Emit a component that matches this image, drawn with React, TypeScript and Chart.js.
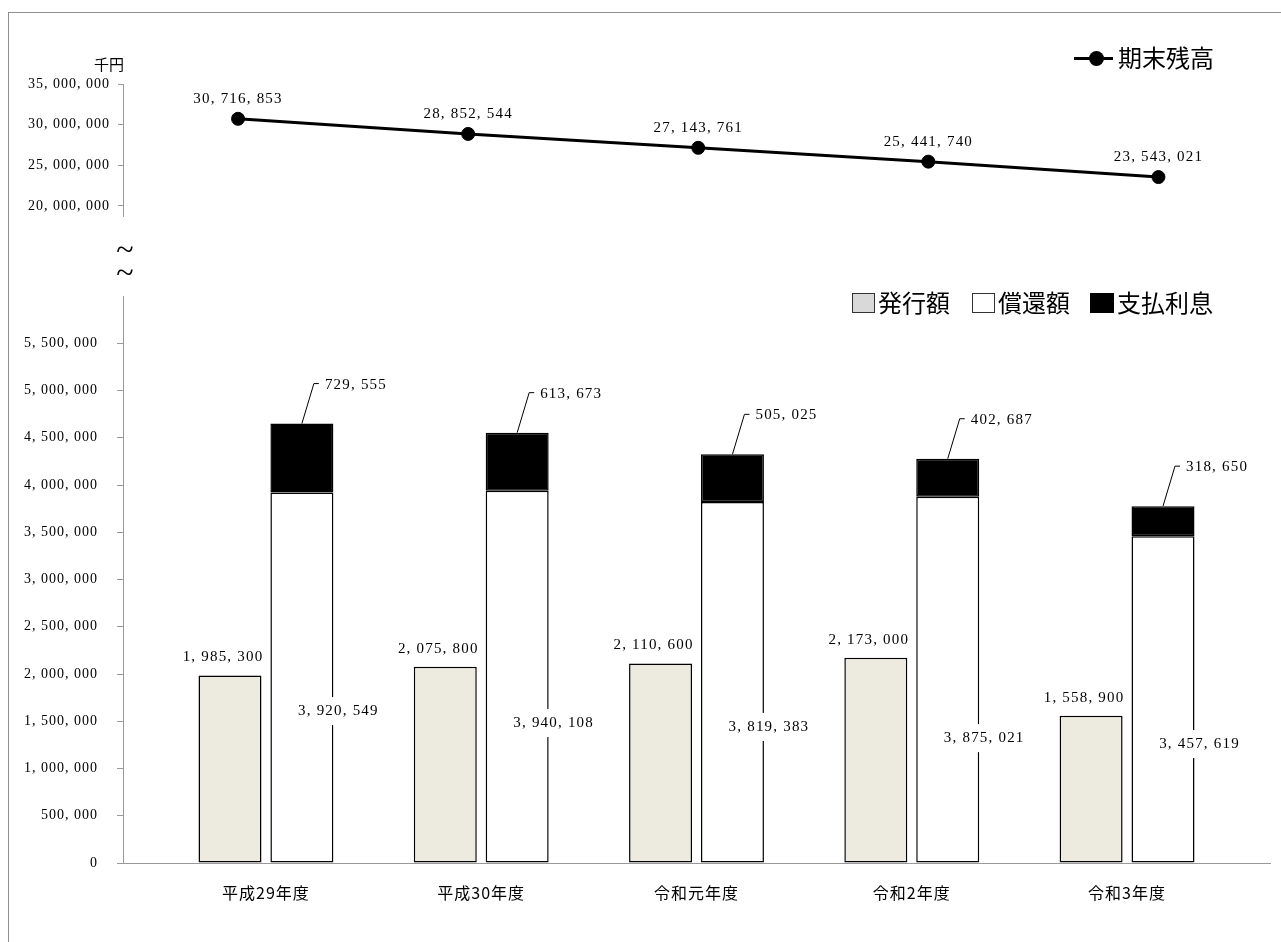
import React, { useEffect, useRef } from "react";
import { Chart, registerables } from "chart.js";

Chart.register(...registerables);

// 年度
const years = ["平成29年度", "平成30年度", "令和元年度", "令和2年度", "令和3年度"];
// 期末残高（千円）
const balance = [30716853, 28852544, 27143761, 25441740, 23543021];
// 発行額・償還額・支払利息（千円）
const issued = [1985300, 2075800, 2110600, 2173000, 1558900];
const repaid = [3920549, 3940108, 3819383, 3875021, 3457619];
const interest = [729555, 613673, 505025, 402687, 318650];
// axis ticks
const balanceTicks = [20000000, 25000000, 30000000, 35000000];
const amountTicks = [0, 500000, 1000000, 1500000, 2000000, 2500000, 3000000, 3500000, 4000000, 4500000, 5000000, 5500000];
// how far up each 償還額 bar its label sits (share of the bar height)
const repaidLabelRise = [0.41, 0.376, 0.377, 0.341, 0.364];

const NUM_FONT = "'Liberation Serif', 'Times New Roman', serif";
const JP_FONT = "'Noto Sans CJK JP', 'Noto Sans', sans-serif";

const fmt = (v: number) => Math.round(v).toLocaleString("en-US").replace(/,/g, ", ");

// Widen glyph spacing of the canvas text a little (tick labels).
const tracking = {
  id: "tracking",
  beforeDraw(chart: any) {
    chart.ctx.letterSpacing = "1px";
  },
};

const balanceLabels = {
  id: "balanceLabels",
  afterDatasetsDraw(chart: any) {
    const ctx = chart.ctx;
    const meta = chart.getDatasetMeta(0);
    ctx.save();
    ctx.letterSpacing = "1.2px";
    ctx.font = `15px ${NUM_FONT}`;
    ctx.fillStyle = "#000";
    ctx.textAlign = "center";
    ctx.textBaseline = "middle";
    meta.data.forEach((pt: any, i: number) => {
      ctx.fillText(fmt(balance[i]), pt.x, pt.y - 20);
    });
    ctx.restore();
  },
};

const barLabels = {
  id: "barLabels",
  afterDatasetsDraw(chart: any) {
    const ctx = chart.ctx;
    const yScale = chart.scales.y;
    const mIssue = chart.getDatasetMeta(0);
    const mRepay = chart.getDatasetMeta(1);
    const mInt = chart.getDatasetMeta(2);
    ctx.save();
    ctx.letterSpacing = "1.2px";
    ctx.font = `15px ${NUM_FONT}`;
    ctx.textBaseline = "middle";

    // 発行額: above the bar
    ctx.textAlign = "center";
    ctx.fillStyle = "#000";
    mIssue.data.forEach((b: any, i: number) => {
      ctx.fillText(fmt(issued[i]), b.x - 7, b.y - 18);
    });

    // 償還額: on the right edge of the bar, on a white ground
    mRepay.data.forEach((b: any, i: number) => {
      const text = fmt(repaid[i]);
      const w = ctx.measureText(text).width;
      const cx = b.x + b.width / 2 + 5;
      const cy = yScale.getPixelForValue(repaid[i] * repaidLabelRise[i]);
      ctx.fillStyle = "#fff";
      ctx.fillRect(cx - w / 2 - 2, cy - 14, w + 4, 28);
      ctx.fillStyle = "#000";
      ctx.fillText(text, cx, cy);
    });

    // 支払利息: callout with a leader line
    ctx.textAlign = "left";
    ctx.strokeStyle = "#000";
    ctx.lineWidth = 1;
    mInt.data.forEach((b: any, i: number) => {
      const top = b.y;
      ctx.beginPath();
      ctx.moveTo(b.x, top);
      ctx.lineTo(b.x + 12, top - 40);
      ctx.lineTo(b.x + 17, top - 40);
      ctx.stroke();
      ctx.fillStyle = "#000";
      ctx.fillText(fmt(interest[i]), b.x + 23, top - 39);
    });
    ctx.restore();
  },
};

export default function App() {
  const topRef = useRef<HTMLCanvasElement | null>(null);
  const bottomRef = useRef<HTMLCanvasElement | null>(null);

  useEffect(() => {
    const lineChart = new Chart(topRef.current as HTMLCanvasElement, {
      type: "line",
      data: {
        labels: years,
        datasets: [
          {
            label: "期末残高",
            data: balance,
            borderColor: "#000",
            borderWidth: 3,
            pointRadius: 6.5,
            pointBorderWidth: 1,
            pointBackgroundColor: "#000",
            pointBorderColor: "#000",
            tension: 0,
            clip: false as any,
          },
        ],
      },
      options: {
        responsive: false,
        animation: false,
        events: [],
        layout: { padding: { top: 84, bottom: 24, left: 0, right: 0 } },
        plugins: { legend: { display: false }, tooltip: { enabled: false } },
        scales: {
          x: { display: false, offset: true },
          y: {
            min: 18750000,
            max: 35000000,
            afterBuildTicks: (s: any) => {
              s.ticks = balanceTicks.map((v) => ({ value: v }));
            },
            afterFit: (s: any) => {
              s.width = 123;
            },
            grid: { drawOnChartArea: false, drawTicks: true, tickLength: 5, color: "#999", lineWidth: 1 },
            border: { display: true, color: "#999", width: 1 },
            ticks: {
              padding: 8,
              color: "#000",
              font: { family: NUM_FONT, size: 14 },
              callback: (v: any) => fmt(Number(v)),
            },
          },
        },
      },
      plugins: [tracking, balanceLabels],
    });

    const barChart = new Chart(bottomRef.current as HTMLCanvasElement, {
      type: "bar",
      data: {
        datasets: [
          {
            label: "発行額",
            data: issued.map((v, i) => ({ x: i, y: v })),
            backgroundColor: "#edeae0",
            borderColor: "#000",
            borderWidth: 1.5,
            borderSkipped: false,
            stack: "issue",
          },
          {
            label: "償還額",
            data: repaid.map((v, i) => ({ x: i, y: v })),
            backgroundColor: "#fff",
            borderColor: "#000",
            borderWidth: 1.5,
            borderSkipped: false,
            stack: "repay",
          },
          {
            label: "支払利息",
            data: interest.map((v, i) => ({ x: i, y: v })),
            backgroundColor: "#000",
            borderColor: "#000",
            borderWidth: 1.5,
            borderSkipped: false,
            stack: "repay",
          },
        ] as any,
      },
      options: {
        responsive: false,
        animation: false,
        events: [],
        datasets: { bar: { categoryPercentage: 0.668, barPercentage: 0.876 } },
        layout: { padding: { top: 28, right: 11, bottom: 29, left: 0 } },
        plugins: { legend: { display: false }, tooltip: { enabled: false } },
        scales: {
          x: {
            type: "linear",
            stacked: true,
            offset: false,
            min: -0.664,
            max: 4.664,
            afterBuildTicks: (s: any) => {
              s.ticks = years.map((_, i) => ({ value: i }));
            },
            afterFit: (s: any) => {
              s.height = 50;
            },
            grid: { display: false, drawTicks: false, offset: false },
            border: { display: true, color: "#999", width: 1 },
            ticks: {
              padding: 20,
              color: "#000",
              autoSkip: false,
              maxRotation: 0,
              font: { family: JP_FONT, size: 16 },
              callback: (v: any) => years[Math.round(Number(v))] ?? "",
            },
          },
          y: {
            stacked: true,
            min: 0,
            max: 6000000,
            afterBuildTicks: (s: any) => {
              s.ticks = amountTicks.map((v) => ({ value: v }));
            },
            afterFit: (s: any) => {
              s.width = 123;
            },
            grid: { drawOnChartArea: false, drawTicks: true, tickLength: 6, color: "#999", lineWidth: 1 },
            border: { display: true, color: "#999", width: 1 },
            ticks: {
              padding: 19,
              color: "#000",
              font: { family: NUM_FONT, size: 14 },
              callback: (v: any) => fmt(Number(v)),
            },
          },
        },
      },
      plugins: [tracking, barLabels],
    });

    return () => {
      lineChart.destroy();
      barChart.destroy();
    };
  }, []);

  const abs = (s: React.CSSProperties): React.CSSProperties => ({ position: "absolute", margin: 0, ...s });
  const jp = (size: number): React.CSSProperties => ({
    fontFamily: JP_FONT,
    fontSize: size,
    lineHeight: `${size}px`,
    color: "#000",
    whiteSpace: "nowrap",
  });
  const breakMark: React.CSSProperties = {
    width: 30,
    textAlign: "center",
    fontFamily: NUM_FONT,
    fontSize: 32,
    lineHeight: "32px",
    color: "#000",
  };

  return (
    <div style={{ position: "fixed", left: 0, top: 0, width: 1281, height: 942, overflow: "hidden", background: "#fff" }}>
      <div style={abs({ left: 8, top: 12, width: 1320, height: 1000, border: "1px solid #8f8f8f", boxSizing: "border-box" })} />

      <canvas ref={topRef} width={1281} height={240} style={abs({ left: 0, top: 0, width: 1281, height: 240, display: "block" })} />
      <canvas ref={bottomRef} width={1281} height={674} style={abs({ left: 0, top: 268, width: 1281, height: 674, display: "block" })} />

      {/* unit */}
      <div style={abs({ left: 94, top: 56, ...jp(15) })}>千円</div>

      {/* axis break marks */}
      <div style={abs({ left: 110, top: 233, ...breakMark })}>~</div>
      <div style={abs({ left: 110, top: 256, ...breakMark })}>~</div>

      {/* line legend */}
      <div style={abs({ left: 1074, top: 57, width: 39, height: 3, background: "#000" })} />
      <div style={abs({ left: 1089, top: 51, width: 15, height: 15, borderRadius: "50%", background: "#000" })} />
      <div style={abs({ left: 1118, top: 45, ...jp(24) })}>期末残高</div>

      {/* bar legend */}
      <div style={abs({ left: 852, top: 293, width: 23, height: 20, background: "#d9d9d9", border: "1px solid #333", boxSizing: "border-box" })} />
      <div style={abs({ left: 878, top: 290, ...jp(24) })}>発行額</div>
      <div style={abs({ left: 972, top: 293, width: 23, height: 20, background: "#fff", border: "1px solid #333", boxSizing: "border-box" })} />
      <div style={abs({ left: 998, top: 290, ...jp(24) })}>償還額</div>
      <div style={abs({ left: 1090, top: 293, width: 24, height: 20, background: "#000" })} />
      <div style={abs({ left: 1117, top: 290, ...jp(24) })}>支払利息</div>
    </div>
  );
}
